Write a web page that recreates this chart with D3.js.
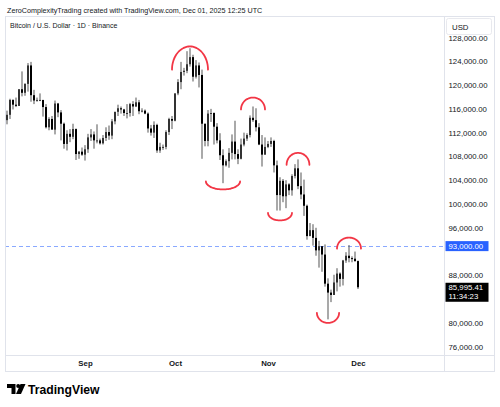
<!DOCTYPE html>
<html><head><meta charset="utf-8">
<script src="https://cdn.jsdelivr.net/npm/d3@7/dist/d3.min.js"></script>
<style>html,body{margin:0;padding:0;background:#fff;}svg{display:block;font-family:"Liberation Sans",Arial,sans-serif;}</style>
</head><body>
<script>
// ---- data (prices in USD thousands), daily candles from 2025-08-06 to 2025-12-01 ----
const firstDay = "2025-08-06";
const open = [114.1,115.0,117.5,116.7,116.5,119.3,118.7,120.2,123.3,118.3,117.4,117.5,117.5,116.3,112.9,114.3,112.5,116.9,115.4,113.5,110.1,111.8,111.3,112.6,108.4,108.8,
 108.3,109.2,111.2,111.7,110.7,110.7,110.2,111.1,112.1,111.5,113.9,115.5,116.1,115.9,115.3,115.3,116.8,116.4,117.1,115.6,115.7,115.2,112.7,112.0,113.3,109.0,109.6,109.6,112.1,114.3,
 114.0,118.6,120.5,122.2,122.4,123.5,124.7,121.4,123.3,121.7,113.5,110.6,115.2,115.3,113.0,110.7,108.2,106.5,107.2,108.6,110.5,108.4,107.6,110.0,111.0,111.6,114.5,114.1,112.9,110.0,108.3,
 109.6,110.1,110.6,106.5,101.5,103.9,101.3,103.3,102.3,104.7,106.0,103.0,101.6,99.7,94.6,95.6,94.3,92.2,92.9,91.5,86.6,85.1,84.7,86.8,88.3,87.4,90.5,91.3,90.9,90.8,
 90.4];
const high = [115.7,117.7,117.6,117.9,119.3,122.3,120.3,123.7,123.9,119.2,117.9,118.6,117.5,116.8,114.6,114.8,117.4,117.0,115.8,113.7,112.4,112.6,113.5,112.7,108.9,109.5,
 109.9,111.8,112.6,112.2,113.4,111.0,111.6,112.9,113.2,114.3,115.5,116.7,116.4,116.0,116.8,117.0,117.3,117.9,117.5,116.1,115.9,115.4,113.3,113.9,113.5,110.3,110.0,112.4,114.5,114.8,
 118.6,121.0,123.9,122.9,125.7,126.2,125.1,124.2,123.8,122.6,113.5,115.8,116.0,115.4,113.6,111.9,109.2,107.5,109.4,111.7,114.0,109.2,111.0,112.0,111.9,114.9,116.4,116.1,113.6,111.6,111.2,
 110.6,111.2,110.8,107.3,104.5,104.2,104.0,103.5,105.0,106.7,107.5,105.3,104.1,99.9,96.8,96.6,96.0,93.8,92.9,93.2,87.5,85.6,88.1,89.2,88.5,90.6,91.9,93.1,91.2,92.0,
 90.5];
const low = [113.4,114.3,115.9,116.3,116.5,118.1,118.2,118.9,117.2,116.8,117.2,117.3,114.7,112.7,112.4,112.6,111.7,114.6,110.7,109.3,109.0,110.4,110.9,107.4,107.6,108.1,
 107.3,108.6,110.6,109.3,110.2,110.0,110.0,110.6,110.8,110.9,113.4,114.8,115.2,114.8,114.4,114.7,114.8,116.3,115.1,115.4,115.1,112.0,111.5,111.1,108.6,108.6,109.1,109.2,111.6,112.6,
 113.9,118.3,119.3,121.6,122.0,123.1,120.6,121.1,119.6,107.6,109.7,109.7,113.8,110.0,110.2,107.4,103.5,106.3,106.1,107.5,107.5,106.7,107.5,109.7,110.6,111.2,113.8,112.2,109.9,106.3,108.3,
 109.4,109.6,105.3,98.9,98.9,100.3,99.3,101.5,101.4,104.3,102.5,100.8,98.0,94.0,94.6,93.0,91.3,89.3,88.6,86.1,80.6,83.5,84.7,85.3,86.1,86.3,90.1,90.2,90.2,90.3,
 85.7];
const close = [115.0,117.5,116.7,116.5,119.3,118.7,120.2,123.3,118.3,117.4,117.5,117.5,116.3,112.9,114.3,112.5,116.9,115.4,113.5,110.1,111.8,111.3,112.6,108.4,108.8,108.3,
 109.2,111.2,111.7,110.7,110.7,110.2,111.1,112.1,111.5,113.9,115.5,116.1,115.9,115.3,115.3,116.8,116.4,117.1,115.6,115.7,115.2,112.7,112.0,113.3,109.0,109.6,109.6,112.1,114.3,114.0,
 118.6,120.5,122.2,122.4,123.5,124.7,121.4,123.3,121.7,113.5,110.6,115.2,115.3,113.0,110.7,108.2,106.5,107.2,108.6,110.5,108.4,107.6,110.0,111.0,111.6,114.5,114.1,112.9,110.0,108.3,109.6,
 110.1,110.6,106.5,101.5,103.9,101.3,103.3,102.3,104.7,106.0,103.0,101.6,99.7,94.6,95.6,94.3,92.2,92.9,91.5,86.6,85.1,84.7,86.8,88.3,87.4,90.5,91.3,90.9,90.8,90.4,
 85.99541];
// visible price-scale labels (84,000 is hidden behind the last-price tag)
const priceTicks = [76,80,88,92,96,100,104,108,112,116,120,124,128];
const monthTicks = ["2025-09-01","2025-10-01","2025-11-01","2025-12-01"];
const levelPrice = 93.0;
const lastPrice = 85.99541;
const lastTimer = "11:34:23";
// hand-drawn arcs: centre date, centre price (k), half width (days), half height (k), side
const arcDates  = ["2025-10-06","2025-10-17","2025-10-27","2025-11-11","2025-11-05","2025-11-28","2025-11-21"];
const arcPrices = [122.6,103.8,115.9,106.6,98.5,92.5,81.7];
const arcHalfW  = [6.0,5.7,4.0,3.8,4.0,4.0,3.7];
const arcHalfH  = [3.9,1.35,2.0,2.0,1.26,1.85,1.7];
const arcSide   = ["top","bottom","top","top","bottom","top","bottom"];
const headerText = "ZeroComplexityTrading created with TradingView.com, Dec 01, 2025 12:25 UTC";
const titleText = "Bitcoin / U.S. Dollar · 1D · Binance";

const W = 500, H = 407;
const parse = d3.utcParse("%Y-%m-%d");
const DAY = 864e5;
const t0 = parse(firstDay);
const dates = open.map((_, i) => new Date(+t0 + i * DAY));
const lastDate = dates[dates.length - 1];

const x = d3.scaleUtc()
  .domain([new Date(+t0 - 0.667 * DAY), new Date(+lastDate + 28.667 * DAY)])
  .range([5, 444]);
const y = d3.scaleLinear().domain([76, 128]).range([346.7, 37.5]);

const svg = d3.select("body").append("svg").attr("width", W).attr("height", H);
svg.append("rect").attr("width", W).attr("height", H).attr("fill", "#fff");

// header
svg.append("text").attr("x", 7).attr("y", 12.5).attr("font-size", 7.2).attr("fill", "#131722").text(headerText);

// frame
const border = "#e0e3eb";
const PT = 16, PB = 355.5, PL = 5, PR = 495, AX = 444.5, TB = 371;
svg.append("rect").attr("x", PL + 0.5).attr("y", PT + 0.5).attr("width", PR - PL - 1).attr("height", TB - PT).attr("fill", "none").attr("stroke", border);
svg.append("line").attr("x1", AX).attr("x2", AX).attr("y1", PT).attr("y2", TB + 0.5).attr("stroke", border);
svg.append("line").attr("x1", PL).attr("x2", PR).attr("y1", PB).attr("y2", PB).attr("stroke", border);

// title
svg.append("text").attr("x", 10).attr("y", 28).attr("font-size", 7.0).attr("fill", "#131722").text(titleText);

// clip for pane
svg.append("clipPath").attr("id", "pane").append("rect").attr("x", PL + 1).attr("y", PT + 1).attr("width", AX - PL - 1.5).attr("height", PB - PT - 1.5);
const pane = svg.append("g").attr("clip-path", "url(#pane)");

// level line
pane.append("line").attr("x1", PL).attr("x2", AX).attr("y1", Math.round(y(levelPrice)) + 0.5).attr("y2", Math.round(y(levelPrice)) + 0.5)
  .attr("stroke", "#2962ff").attr("stroke-opacity", 0.55).attr("stroke-width", 1.2).attr("stroke-dasharray", "4,3");

// candles
const candles = pane.append("g").selectAll("g").data(dates.map((d, i) => ({d, o: open[i], h: high[i], l: low[i], c: close[i]}))).join("g");
candles.append("rect")
  .attr("x", d => Math.round(x(d.d)) - 0.5)
  .attr("width", 1)
  .attr("y", d => y(d.h))
  .attr("height", d => y(d.l) - y(d.h))
  .attr("fill", "#555");
candles.append("rect")
  .attr("x", d => Math.round(x(d.d)) - 1)
  .attr("width", 2)
  .attr("y", d => y(Math.max(d.o, d.c)))
  .attr("height", d => Math.max(1, Math.abs(y(d.o) - y(d.c))))
  .attr("fill", d => d.c >= d.o ? "#333" : "#000");

// arcs
const arcLine = d3.line().curve(d3.curveBasis);
arcDates.forEach((ds, i) => {
  const cd = +parse(ds), cp = arcPrices[i];
  const pts = d3.range(0, 41).map(k => {
    const a = Math.PI * k / 40;
    const dx = -Math.cos(a) * arcHalfW[i];
    const dy = (arcSide[i] === "top" ? 1 : -1) * Math.sin(a) * arcHalfH[i];
    return [x(new Date(cd + dx * DAY)), y(cp + dy)];
  });
  pane.append("path").attr("d", arcLine(pts)).attr("fill", "none").attr("stroke", "#f23645").attr("stroke-width", 1.8).attr("stroke-linecap", "round");
});

// price axis
const yAxis = d3.axisRight(y).tickValues(priceTicks).tickSize(0).tickPadding(0)
  .tickFormat(v => d3.format(",.2f")(v * 1000));
const ya = svg.append("g").attr("transform", `translate(${AX + 4},0)`).call(yAxis);
ya.select(".domain").remove();
ya.selectAll("text").attr("font-size", 7.8).attr("fill", "#131722").attr("font-family", "Liberation Sans, Arial, sans-serif");
// the 92,000 label sits mostly behind the level tag: show only its lower sliver
svg.append("clipPath").attr("id", "below-level").append("rect").attr("x", AX).attr("y", y(levelPrice) + 5.5).attr("width", 55).attr("height", 10);
ya.selectAll(".tick").filter(d => d === 92).attr("clip-path", "url(#below-level)");

// USD box
svg.append("rect").attr("x", 446.5).attr("y", 18.5).attr("width", 45).attr("height", 16).attr("rx", 2).attr("fill", "#fff").attr("stroke", "#e8e9ee");
svg.append("text").attr("x", 452).attr("y", 29.5).attr("font-size", 7.8).attr("fill", "#131722").text("USD");

// level label
const ly = y(levelPrice);
svg.append("rect").attr("x", AX + 1).attr("y", ly - 4.5).attr("width", 43).attr("height", 10).attr("fill", "#2962ff");
svg.append("text").attr("x", AX + 4).attr("y", ly + 3.2).attr("font-size", 7.8).attr("fill", "#fff").text(d3.format(",.2f")(levelPrice * 1000));

// last price label
const lpy = y(lastPrice);
svg.append("rect").attr("x", AX + 1).attr("y", lpy - 4.5).attr("width", 43).attr("height", 19).attr("fill", "#000");
svg.append("text").attr("x", AX + 4).attr("y", lpy + 3.2).attr("font-size", 7.8).attr("fill", "#fff").text(d3.format(",.2f")(lastPrice * 1000));
svg.append("text").attr("x", AX + 4).attr("y", lpy + 11.8).attr("font-size", 7.8).attr("fill", "#fff").text(lastTimer);

// time axis
const xAxis = d3.axisBottom(x).tickValues(monthTicks.map(parse)).tickSize(0).tickPadding(0).tickFormat(d3.utcFormat("%b"));
const xa = svg.append("g").attr("transform", `translate(0,${PB + 5})`).call(xAxis);
xa.select(".domain").remove();
xa.selectAll("text").attr("font-size", 7.8).attr("font-weight", "bold").attr("fill", "#131722").attr("font-family", "Liberation Sans, Arial, sans-serif");

// TradingView logo
const logo = svg.append("g").attr("transform", "translate(7,384)");
logo.append("path").attr("d", "M0,0 H8.5 V10 H4.5 V4 H0 Z").attr("fill", "#000");
logo.append("circle").attr("cx", 11.2).attr("cy", 2).attr("r", 2).attr("fill", "#000");
logo.append("path").attr("d", "M13.5,0 H18.5 L14,10 H9 Z").attr("fill", "#000");
svg.append("text").attr("x", 28).attr("y", 394).attr("font-size", 12.2).attr("font-weight", "bold").attr("fill", "#000").text("TradingView");
</script>
</body></html>
